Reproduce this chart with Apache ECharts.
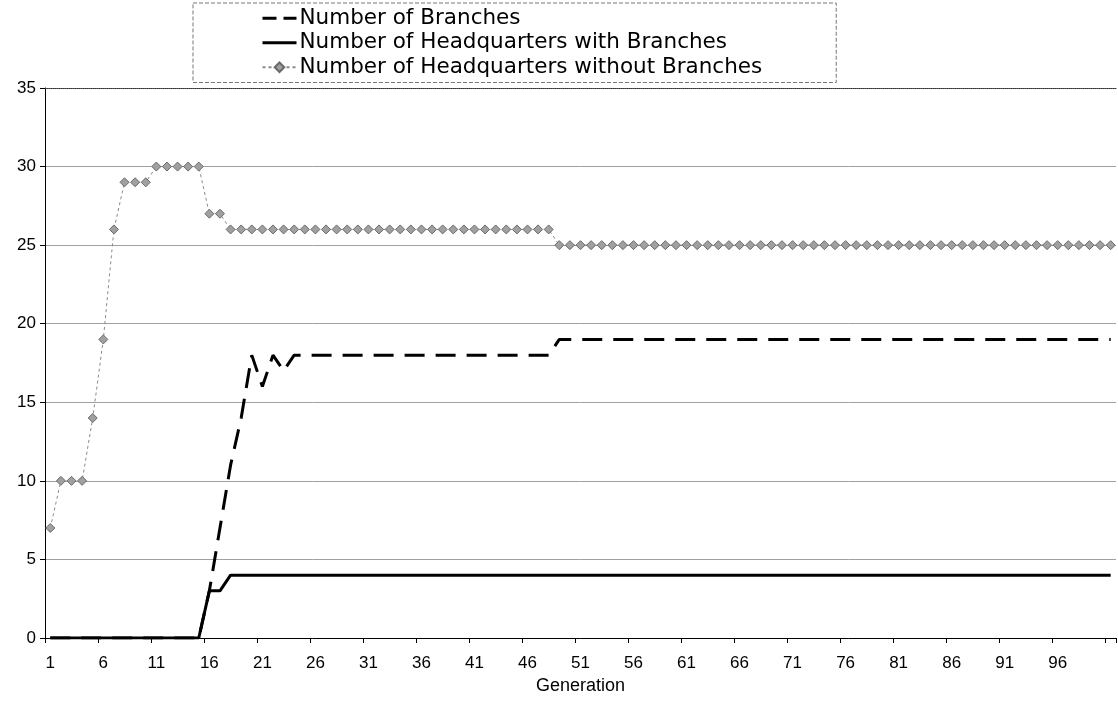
<!DOCTYPE html>
<html>
<head>
<meta charset="utf-8">
<script src="https://cdn.jsdelivr.net/npm/echarts@6/dist/echarts.min.js"></script>
<style>
html,body{margin:0;padding:0;background:#fff;}
#c{width:1118px;height:711px;}
</style>
</head>
<body>
<div id="c"></div>
<script>
// Categories: generations 1..101
var generations = [];
for (var g = 1; g <= 101; g++) generations.push(String(g));

var seriesNames = [
  'Number of Branches',
  'Number of Headquarters with Branches',
  'Number of Headquarters without Branches'
];

var branches = [
  0,0,0,0,0,0,0,0,0,0,
  0,0,0,0,0,3,7,11,14,18,
  16,18,17,18,18,18,18,18,18,18,
  18,18,18,18,18,18,18,18,18,18,
  18,18,18,18,18,18,18,18,19,19,
  19,19,19,19,19,19,19,19,19,19,
  19,19,19,19,19,19,19,19,19,19,
  19,19,19,19,19,19,19,19,19,19,
  19,19,19,19,19,19,19,19,19,19,
  19,19,19,19,19,19,19,19,19,19,
  19
];

var hqWith = [
  0,0,0,0,0,0,0,0,0,0,
  0,0,0,0,0,3,3,4,4,4,
  4,4,4,4,4,4,4,4,4,4,
  4,4,4,4,4,4,4,4,4,4,
  4,4,4,4,4,4,4,4,4,4,
  4,4,4,4,4,4,4,4,4,4,
  4,4,4,4,4,4,4,4,4,4,
  4,4,4,4,4,4,4,4,4,4,
  4,4,4,4,4,4,4,4,4,4,
  4,4,4,4,4,4,4,4,4,4,
  4
];

var hqWithout = [
  7,10,10,10,14,19,26,29,29,29,
  30,30,30,30,30,27,27,26,26,26,
  26,26,26,26,26,26,26,26,26,26,
  26,26,26,26,26,26,26,26,26,26,
  26,26,26,26,26,26,26,26,25,25,
  25,25,25,25,25,25,25,25,25,25,
  25,25,25,25,25,25,25,25,25,25,
  25,25,25,25,25,25,25,25,25,25,
  25,25,25,25,25,25,25,25,25,25,
  25,25,25,25,25,25,25,25,25,25,
  25
];

var yTicks = { min: 0, max: 35, interval: 5 };

var FONT = '"Liberation Sans", Arial, sans-serif';
var chart = echarts.init(document.getElementById('c'), null, { renderer: 'canvas' });

chart.setOption({
  animation: false,
  backgroundColor: '#ffffff',
  textStyle: { fontFamily: FONT, color: '#000' },
  legend: {
    data: [
      { name: seriesNames[0], itemStyle: { opacity: 0 }, lineStyle: { width: 3, type: [14, 7] } },
      { name: seriesNames[1], itemStyle: { opacity: 0 }, lineStyle: { width: 3 } },
      { name: seriesNames[2] }
    ],
    orient: 'vertical',
    left: 193,
    top: 3,
    padding: [3, 74, 3, 68],
    itemGap: 0,
    itemWidth: 34,
    itemHeight: 12,
    borderColor: '#777',
    borderWidth: 1,
    borderType: 'dashed',
    textStyle: { fontFamily: '"DejaVu Sans", sans-serif', fontSize: 21.5, color: '#000', lineHeight: 24.5, padding: [0,0,0,-2] }
  },
  grid: { left: 45, right: 2, top: 88, bottom: 73, containLabel: false },
  xAxis: [{
    type: 'category',
    data: generations,
    boundaryGap: true,
    name: 'Generation',
    nameLocation: 'middle',
    nameGap: 39,
    nameTextStyle: { fontFamily: FONT, fontSize: 18, color: '#000' },
    axisLine: { show: true, lineStyle: { color: '#000', width: 1 } },
    axisTick: { show: true, interval: 4, length: 5, lineStyle: { color: '#000' } },
    axisLabel: {
      interval: function (idx) { return idx % 5 === 0 && idx < 100; },
      fontFamily: FONT, fontSize: 17, color: '#000', margin: 17
    },
    splitLine: { show: false }
  }, {
    type: 'category',
    data: generations,
    position: 'top',
    axisLine: { show: true, lineStyle: { color: '#333', width: 1, type: 'dotted' } },
    axisTick: { show: false },
    axisLabel: { show: false }
  }],
  yAxis: {
    type: 'value',
    min: yTicks.min,
    max: yTicks.max,
    interval: yTicks.interval,
    axisLine: { show: true, lineStyle: { color: '#000', width: 1 } },
    axisTick: { show: true, length: 5, lineStyle: { color: '#000' } },
    axisLabel: { fontFamily: FONT, fontSize: 17, color: '#000', margin: 9 },
    splitLine: { show: true, lineStyle: { color: '#a0a0a0', width: 1 } }
  },
  series: [
    {
      name: seriesNames[0],
      type: 'line',
      data: branches,
      showSymbol: false,
      symbol: 'none',
      z: 3,
      lineStyle: { color: '#000', width: 3, type: [20, 11] },
      itemStyle: { color: '#000' }
    },
    {
      name: seriesNames[1],
      type: 'line',
      data: hqWith,
      showSymbol: false,
      symbol: 'none',
      z: 4,
      lineStyle: { color: '#000', width: 3 },
      itemStyle: { color: '#000' }
    },
    {
      name: seriesNames[2],
      type: 'line',
      data: hqWithout,
      symbol: 'diamond',
      symbolSize: 9,
      showAllSymbol: true,
      z: 2,
      lineStyle: { color: '#8a8a8a', width: 1, type: [3, 3] },
      itemStyle: { color: '#a0a0a0', borderColor: '#6a6a6a', borderWidth: 1 }
    }
  ]
});
</script>
</body>
</html>
